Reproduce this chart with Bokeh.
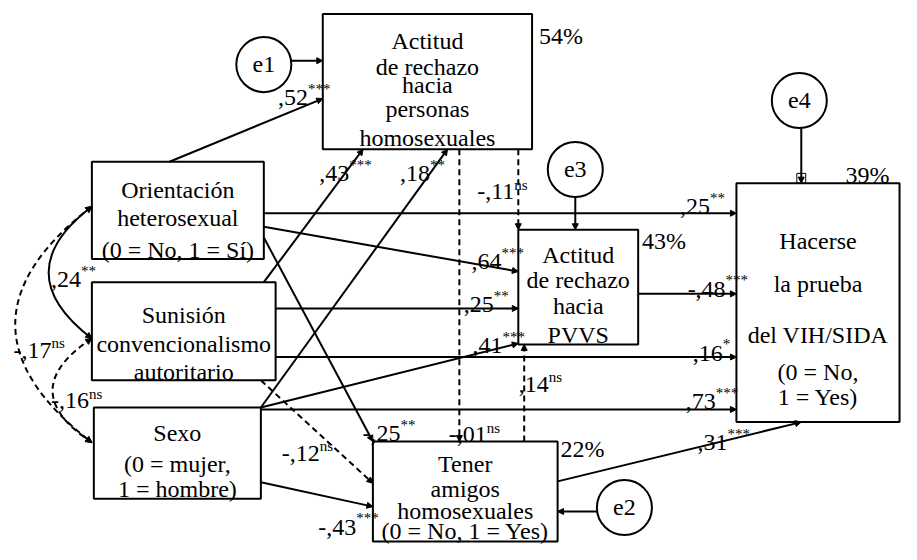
import numpy as np
from bokeh.plotting import figure
from bokeh.models import Range1d, Arrow, NormalHead, ColumnDataSource
from bokeh.core.properties import value
from bokeh.embed import file_html
from bokeh.resources import INLINE

# ---------------- data ----------------
node_keys = ["orient", "sumis", "sexo", "act_homo", "act_pvvs", "tener", "prueba"]
node_text = [
    ["Orientación", "heterosexual", "(0 = No, 1 = Sí)"],
    ["Sunisión", "convencionalismo", "autoritario"],
    ["Sexo", "(0 = mujer,", "1 = hombre)"],
    ["Actitud", "de rechazo", "hacia", "personas", "homosexuales"],
    ["Actitud", "de rechazo", "hacia", "PVVS"],
    ["Tener", "amigos", "homosexuales", "(0 = No, 1 = Yes)"],
    ["Hacerse", "la prueba", "del VIH/SIDA", "(0 = No,", "1 = Yes)"],
]
r2_keys = ["act_homo", "act_pvvs", "tener", "prueba"]
r2_text = ["54%", "43%", "22%", "39%"]

err_keys = ["e1", "e2", "e3", "e4"]
err_target = ["act_homo", "tener", "act_pvvs", "prueba"]

path_src = ["orient", "sumis", "sexo", "orient", "orient", "orient", "sumis", "sumis",
            "sumis", "sexo", "sexo", "sexo", "act_homo", "act_homo", "tener", "act_pvvs", "tener"]
path_dst = ["act_homo", "act_homo", "act_homo", "prueba", "act_pvvs", "tener", "act_pvvs", "prueba",
            "tener", "act_pvvs", "prueba", "tener", "act_pvvs", "tener", "act_pvvs", "prueba", "prueba"]
path_coef = [",52", ",43", ",18", ",25", ",64", "-,25", ",25", ",16",
             "-,12", ",41", ",73", "-,43", "-,11", "-,01", ",14", "-,48", ",31"]
path_sig = ["***", "***", "**", "**", "***", "**", "**", "*",
            "ns", "***", "***", "***", "ns", "ns", "ns", "***", "***"]

cov_a = ["orient", "orient", "sumis"]
cov_b = ["sumis", "sexo", "sexo"]
cov_coef = [",24", "-,17", "-,16"]
cov_sig = ["**", "ns", "ns"]

# ---------------- layout ----------------
BOX = {  # left, right, top, bottom
    "orient": (93, 268, 166, 266),
    "sumis": (93, 280, 290, 391),
    "sexo": (95, 265, 419, 513),
    "act_homo": (328, 541, 14, 153),
    "act_pvvs": (527, 649, 236, 354),
    "tener": (379, 567, 454, 557),
    "prueba": (749, 915, 188, 434),
}
LINE_BASE = {
    "orient": [195, 224, 257],
    "sumis": [324, 354, 382],
    "sexo": [445, 477, 503],
    "act_homo": [42, 68, 87, 112, 142],
    "act_pvvs": [262, 288, 314, 344],
    "tener": [477, 503, 526, 546],
    "prueba": [248, 292, 344, 382, 408],
}
R2_POS = {"act_homo": (548, 37), "act_pvvs": (653, 248), "tener": (570, 462), "prueba": (860, 180)}
ERR_POS = {"e1": (268, 66), "e2": (635, 522), "e3": (585, 174), "e4": (813, 103)}
ERR_R = 28
ERR_ARROW = {"e1": ((296, 62), (328, 62)), "e2": ((607, 526), (567, 526)),
             "e3": ((585, 202), (585, 236)), "e4": ((815, 131), (815, 188))}
PATH_PTS = [
    ((172, 166), (328, 101)), ((268, 290), (369, 153)), ((265, 419), (455, 153)),
    ((268, 219), (749, 219)), ((268, 233), (527, 279)), ((268, 244), (379, 454)),
    ((280, 317), (527, 317)), ((280, 367), (749, 367)), ((265, 391), (379, 497)),
    ((265, 419), (527, 353)), ((265, 421), (749, 421)), ((265, 496), (379, 521)),
    ((527, 153), (527, 236)), ((467, 153), (467, 454)), ((533, 454), (533, 354)),
    ((649, 302), (749, 302)), ((567, 495), (815, 434)),
]
PATH_LABEL = [
    (313, 100), (355, 178), (437, 178), (722, 212), (510, 269), (407, 446),
    (502, 313), (735, 363), (325, 466), (511, 355), (728, 413), (362, 542),
    (523, 197), (495, 447), (558, 395), (738, 297), (740, 455),
]
COV_PTS = [((93, 212), (93, 348), 49), ((93, 212), (93, 455), 15), ((93, 348), (93, 455), 53)]
COV_LABEL = [(82, 287), (52, 360), (90, 412)]

FONT = value("Liberation Serif")
MAIN = "24px"
SUP = "15px"
LW = 2
INK = "black"

p = figure(width=901, height=544, x_range=Range1d(0, 917), y_range=Range1d(560, 0),
           output_backend="svg", toolbar_location=None, min_border=0,
           x_axis_location=None, y_axis_location=None)
p.grid.visible = False
p.outline_line_color = None
p.background_fill_color = "white"


def head():
    return NormalHead(size=6, fill_color=INK, line_color=INK, line_width=1)


# ---- paths ----
solid = dict(x0=[], y0=[], x1=[], y1=[])
dashed = dict(x0=[], y0=[], x1=[], y1=[])
for (a, b), s in zip(PATH_PTS, path_sig):
    d = dashed if s == "ns" else solid
    d["x0"].append(a[0]); d["y0"].append(a[1]); d["x1"].append(b[0]); d["y1"].append(b[1])
for k, (a, b) in ERR_ARROW.items():
    solid["x0"].append(a[0]); solid["y0"].append(a[1]); solid["x1"].append(b[0]); solid["y1"].append(b[1])

# ---- covariance curves (quadratic) ----
cs = dict(x0=[], y0=[], x1=[], y1=[], cx=[], cy=[])
cd = dict(x0=[], y0=[], x1=[], y1=[], cx=[], cy=[])
for (a, b, xl), s in zip(COV_PTS, cov_sig):
    d = cd if s == "ns" else cs
    cx = (4 * xl - a[0] - b[0]) / 2.0
    cy = (a[1] + b[1]) / 2.0
    d["x0"].append(a[0]); d["y0"].append(a[1]); d["x1"].append(b[0]); d["y1"].append(b[1])
    d["cx"].append(cx); d["cy"].append(cy)
    tgt = dashed if s == "ns" else solid
    for P in (a, b):
        u = np.array([cx - P[0], cy - P[1]], dtype=float)
        u /= np.linalg.norm(u)
        tgt["x0"].append(P[0] + 4 * u[0]); tgt["y0"].append(P[1] + 4 * u[1])
        tgt["x1"].append(P[0]); tgt["y1"].append(P[1])

p.quadratic(x0="x0", y0="y0", x1="x1", y1="y1", cx="cx", cy="cy", source=ColumnDataSource(cs),
            line_color=INK, line_width=LW)
p.quadratic(x0="x0", y0="y0", x1="x1", y1="y1", cx="cx", cy="cy", source=ColumnDataSource(cd),
            line_color=INK, line_width=LW, line_dash="6 4")

p.add_layout(Arrow(end=head(), source=ColumnDataSource(solid), x_start="x0", y_start="y0",
                   x_end="x1", y_end="y1", line_color=INK, line_width=LW))
p.add_layout(Arrow(end=head(), source=ColumnDataSource(dashed), x_start="x0", y_start="y0",
                   x_end="x1", y_end="y1", line_color=INK, line_width=LW, line_dash="6 4"))

# ---- boxes ----
L = [BOX[k][0] for k in node_keys]
R = [BOX[k][1] for k in node_keys]
T = [BOX[k][2] for k in node_keys]
B = [BOX[k][3] for k in node_keys]
p.quad(left=L, right=R, top=T, bottom=B, fill_color=None, line_color=INK, line_width=2)

tx, ty, tt = [], [], []
for k, lines in zip(node_keys, node_text):
    cxb = (BOX[k][0] + BOX[k][1]) / 2.0
    for ln, yb in zip(lines, LINE_BASE[k]):
        tx.append(cxb); ty.append(yb); tt.append(ln)
p.text(x=tx, y=ty, text=tt, text_font=FONT, text_font_size=MAIN, text_align="center",
       text_baseline="alphabetic", text_color=INK)

# small square at e4 tip
ex, ey = ERR_ARROW["e4"][1]
p.rect(x=[ex], y=[ey - 5], width=9, height=10, fill_color=None, line_color=INK, line_width=1)

# ---- R2 ----
p.text(x=[R2_POS[k][0] for k in r2_keys], y=[R2_POS[k][1] for k in r2_keys], text=r2_text,
       text_font=FONT, text_font_size=MAIN, text_align="left", text_baseline="alphabetic",
       text_color=INK)

# ---- error circles ----
p.circle(x=[ERR_POS[k][0] for k in err_keys], y=[ERR_POS[k][1] for k in err_keys], radius=ERR_R,
         fill_color="white", line_color=INK, line_width=2)
p.text(x=[ERR_POS[k][0] for k in err_keys], y=[ERR_POS[k][1] for k in err_keys], text=err_keys,
       text_font=FONT, text_font_size=MAIN, text_align="center", text_baseline="middle",
       text_color=INK)

# ---- coefficients ----
all_lab = PATH_LABEL + COV_LABEL
all_coef = path_coef + cov_coef
all_sig = path_sig + cov_sig
p.text(x=[a for a, b in all_lab], y=[b for a, b in all_lab], text=all_coef, text_font=FONT,
       text_font_size=MAIN, text_align="right", text_baseline="alphabetic", text_color=INK)
sup_y = [b - (7 if s == "ns" else 9) for (a, b), s in zip(all_lab, all_sig)]
p.text(x=[a for a, b in all_lab], y=sup_y, text=all_sig, text_font=FONT,
       text_font_size=SUP, text_align="left", text_baseline="alphabetic", text_color=INK)

open("out.html", "w").write(file_html(p, INLINE))
